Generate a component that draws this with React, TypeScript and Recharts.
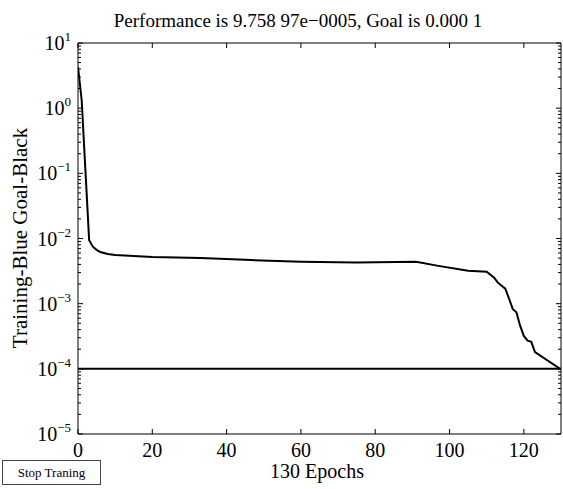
import { LineChart, Line, XAxis, YAxis } from 'recharts';

const FONT = '"Liberation Serif", "DejaVu Serif", serif';

// training performance (epoch -> mse)
const epochs = [0, 1, 2, 3, 4, 5, 6, 8, 10, 15, 20, 33, 45, 60, 75, 91, 97, 105, 110, 112, 113, 115, 116, 117, 118, 119, 120, 121, 122, 123, 130];
const trainPerf = [
  4.3, 1.3, 0.11, 0.0094, 0.0075, 0.0067, 0.0062, 0.0058, 0.0056, 0.0054, 0.0052, 0.005, 0.0047, 0.0044, 0.0043,
  0.0044, 0.0038, 0.0032, 0.0031, 0.0025, 0.0021, 0.0017, 0.0012, 0.00083, 0.00074, 0.00046, 0.00032, 0.00027,
  0.00026, 0.00018, 0.0000976,
];
const goal = 0.0001;

const xTicks = [0, 20, 40, 60, 80, 100, 120];
const decades = [1e-5, 1e-4, 1e-3, 1e-2, 1e-1, 1, 10];
const decadeExp = ['\u22125', '\u22124', '\u22123', '\u22122', '\u22121', '0', '1'];
const minorMult = [2, 3, 4, 5, 6, 7, 8, 9];

const yTicks = decades.flatMap((d, i) => (i < decades.length - 1 ? [d, ...minorMult.map((m) => d * m)] : [d]));

const data = epochs.map((e, i) => ({ epoch: e, perf: trainPerf[i], goal }));

const decadeIndex = (v: number) => decades.findIndex((d) => Math.abs(v / d - 1) < 1e-6);

const LeftTick = (props: any) => {
  const { x, y, payload } = props;
  const di = decadeIndex(payload.value);
  const major = di >= 0;
  return (
    <g>
      <line x1={x} x2={x + (major ? 5 : 3)} y1={y} y2={y} stroke="#000" />
      {major && (
        <text x={x - 7} y={y + 7} textAnchor="end" fontFamily={FONT} fontSize={20} fill="#000">
          10
          <tspan dy={-9} fontSize={13}>
            {decadeExp[di]}
          </tspan>
        </text>
      )}
    </g>
  );
};

const RightTick = (props: any) => {
  const { x, y, payload } = props;
  const major = decadeIndex(payload.value) >= 0;
  return <line x1={x} x2={x - (major ? 5 : 3)} y1={y} y2={y} stroke="#000" />;
};

const BottomTick = (props: any) => {
  const { x, y, payload } = props;
  return (
    <g>
      <line x1={x} x2={x} y1={y} y2={y - 5} stroke="#000" />
      <text x={x} y={y + 23} textAnchor="middle" fontFamily={FONT} fontSize={20} fill="#000">
        {payload.value}
      </text>
    </g>
  );
};

const TopTick = (props: any) => {
  const { x, y } = props;
  return <line x1={x} x2={x} y1={y} y2={y + 5} stroke="#000" />;
};

export default function App() {
  return (
    <div style={{ position: 'absolute', left: 0, top: 0, width: 563, height: 489, background: '#fff', fontFamily: FONT }}>
      <LineChart width={563} height={489} data={data} margin={{ top: 0, right: 0, bottom: 0, left: 0 }}>
        <XAxis
          dataKey="epoch"
          type="number"
          domain={[0, 130]}
          ticks={xTicks}
          interval={0}
          allowDataOverflow
          height={55}
          tickSize={0}
          tickMargin={0}
          tickLine={false}
          tick={<BottomTick />}
          axisLine={{ stroke: '#000' }}
        />
        <XAxis
          xAxisId="top"
          orientation="top"
          dataKey="epoch"
          type="number"
          domain={[0, 130]}
          ticks={xTicks}
          interval={0}
          allowDataOverflow
          height={43}
          tickSize={0}
          tickMargin={0}
          tickLine={false}
          tick={<TopTick />}
          axisLine={{ stroke: '#000' }}
        />
        <YAxis
          type="number"
          scale="log"
          domain={[1e-5, 10]}
          ticks={yTicks}
          interval={0}
          allowDataOverflow
          width={78}
          tickSize={0}
          tickMargin={0}
          tickLine={false}
          tick={<LeftTick />}
          axisLine={{ stroke: '#000' }}
        />
        <YAxis
          yAxisId="right"
          orientation="right"
          type="number"
          scale="log"
          domain={[1e-5, 10]}
          ticks={yTicks}
          interval={0}
          allowDataOverflow
          width={2}
          tickSize={0}
          tickMargin={0}
          tickLine={false}
          tick={<RightTick />}
          axisLine={{ stroke: '#000' }}
        />
        <Line dataKey="goal" stroke="#000" strokeWidth={2} dot={false} isAnimationActive={false} />
        <Line dataKey="perf" stroke="#000" strokeWidth={2} dot={false} type="linear" isAnimationActive={false} />
      </LineChart>

      <div style={{ position: 'absolute', left: 298, top: 10, transform: 'translateX(-50%)', whiteSpace: 'nowrap', fontSize: 19, lineHeight: '22px', color: '#000' }}>
        Performance is 9.758 97e{'\u2212'}0005, Goal is 0.000 1
      </div>
      <div
        style={{
          position: 'absolute',
          left: 20,
          top: 238,
          transform: 'translate(-50%, -50%) rotate(-90deg)',
          whiteSpace: 'nowrap',
          fontSize: 21,
          lineHeight: '24px',
          color: '#000',
        }}
      >
        Training-Blue Goal-Black
      </div>
      <div style={{ position: 'absolute', left: 317, top: 471, transform: 'translate(-50%, -50%)', whiteSpace: 'nowrap', fontSize: 20, lineHeight: '22px', color: '#000' }}>
        130 Epochs
      </div>
      <div
        style={{
          position: 'absolute',
          left: 2,
          top: 460,
          width: 97,
          height: 23,
          border: '1px solid #444',
          display: 'flex',
          alignItems: 'center',
          justifyContent: 'center',
          fontSize: 13,
          color: '#000',
        }}
      >
        Stop Traning
      </div>
    </div>
  );
}
